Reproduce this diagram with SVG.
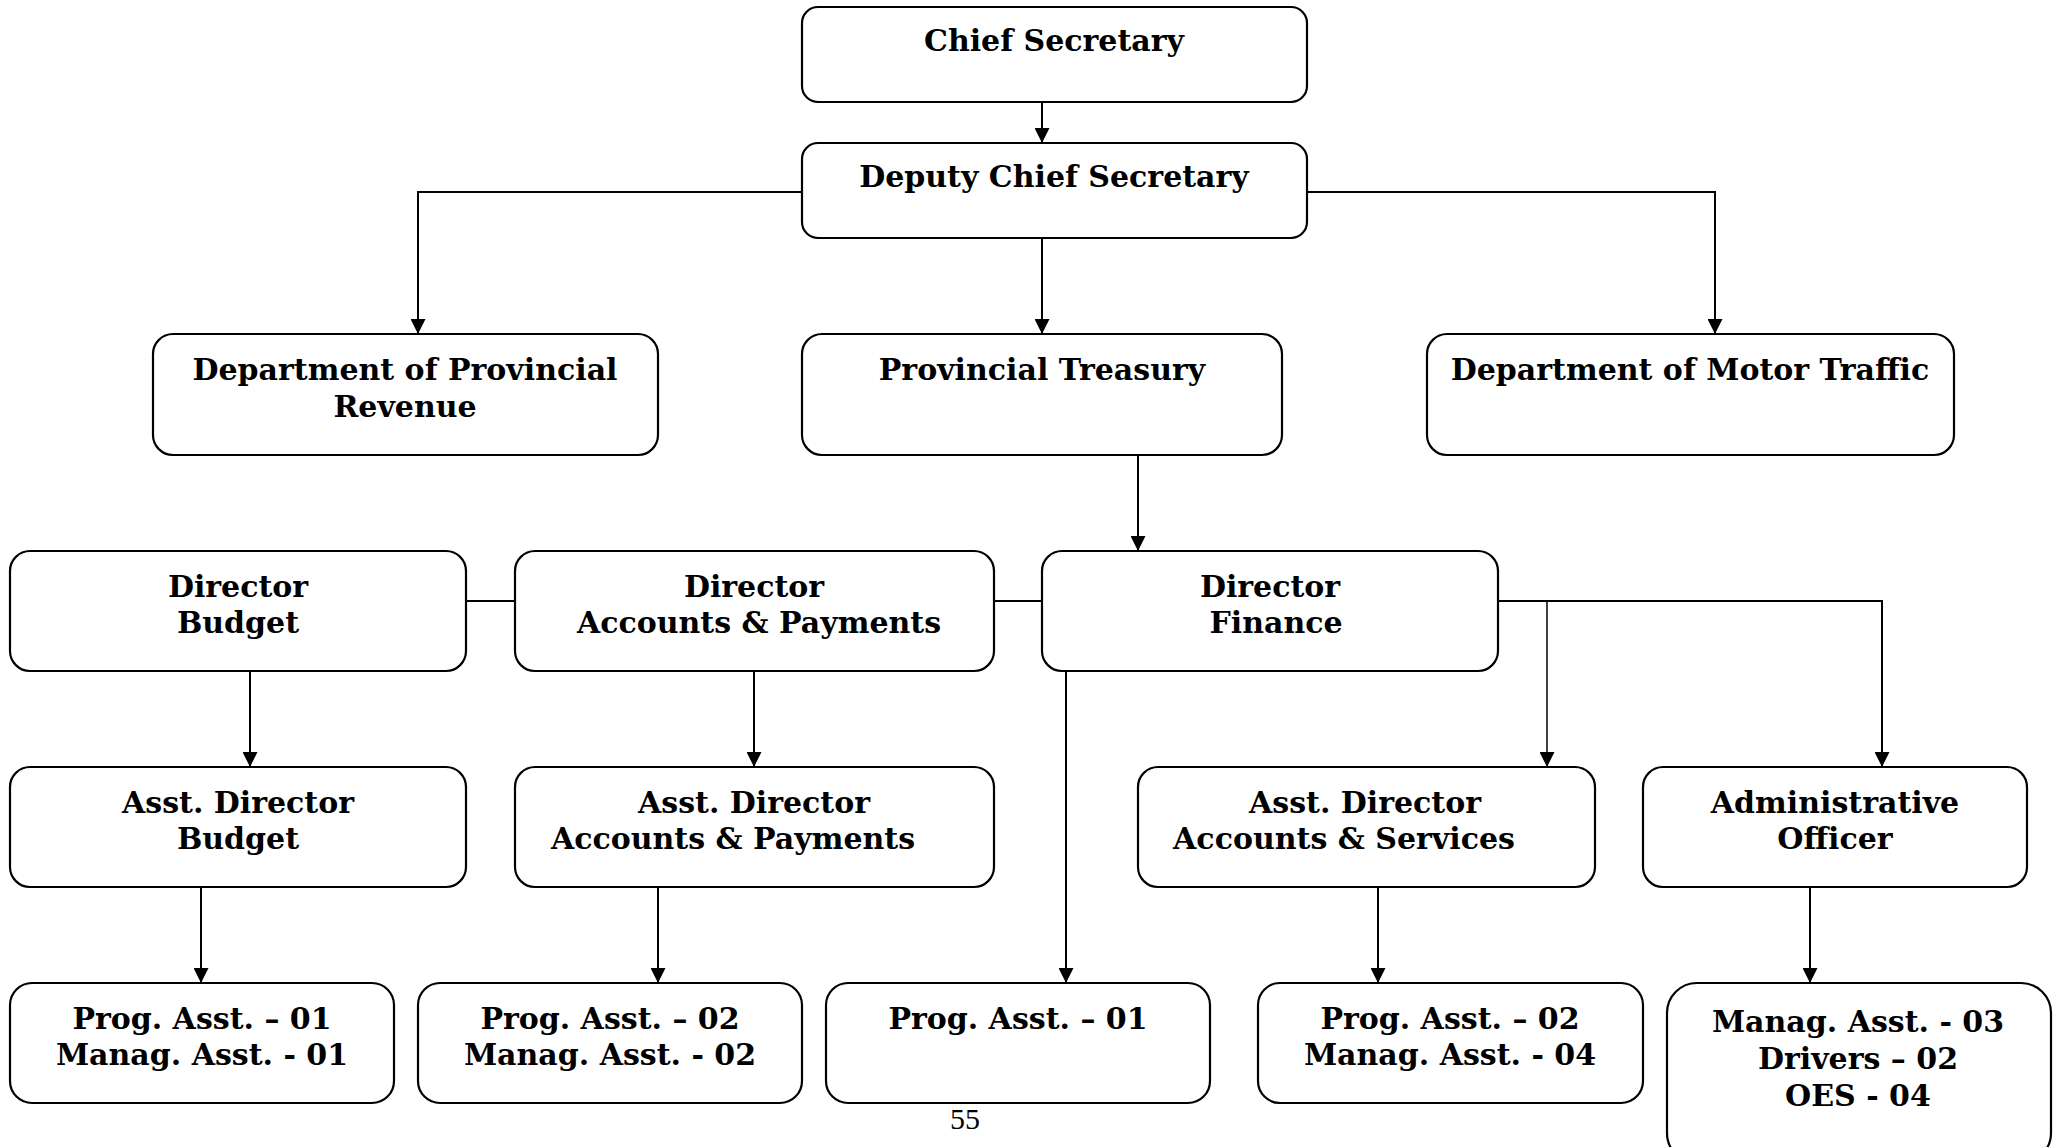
<svg xmlns="http://www.w3.org/2000/svg" width="2062" height="1147" viewBox="0 0 2062 1147">
<style>
.box{fill:#fff;stroke:#000;stroke-width:2.2}
.lbl{font-family:"DejaVu Serif","Liberation Serif",serif;font-weight:bold;font-size:30px;fill:#000;text-anchor:middle}
.conn{fill:none;stroke:#000;stroke-width:2}
.thin{stroke-width:1.5}
.page{font-family:"Liberation Serif","Times New Roman",serif;font-size:30px;fill:#000;text-anchor:middle}
</style>
<defs>
<marker id="arr" markerUnits="userSpaceOnUse" markerWidth="15" markerHeight="15" viewBox="0 0 15 15" refX="15" refY="7.5" orient="auto">
<path d="M0,0 L15,7.5 L0,15 Z" fill="#000"/>
</marker>
</defs>
<rect width="2062" height="1147" fill="#fff"/>
<g id="connectors">
<path class="conn" d="M1042,102 V143" marker-end="url(#arr)"/>
<path class="conn" d="M802,192 H418 V334" marker-end="url(#arr)"/>
<path class="conn" d="M1042,238 V334" marker-end="url(#arr)"/>
<path class="conn" d="M1307,192 H1715 V334" marker-end="url(#arr)"/>
<path class="conn" d="M1138,455 V551" marker-end="url(#arr)"/>
<path class="conn" d="M466,601 H515"/>
<path class="conn" d="M994,601 H1042"/>
<path class="conn" d="M1498,601 H1882 V767" marker-end="url(#arr)"/>
<path class="conn thin" d="M1547,601 V767" marker-end="url(#arr)"/>
<path class="conn" d="M250,671 V767" marker-end="url(#arr)"/>
<path class="conn" d="M754,671 V767" marker-end="url(#arr)"/>
<path class="conn" d="M1066,671 V983" marker-end="url(#arr)"/>
<path class="conn" d="M201,887 V983" marker-end="url(#arr)"/>
<path class="conn" d="M658,887 V983" marker-end="url(#arr)"/>
<path class="conn" d="M1378,887 V983" marker-end="url(#arr)"/>
<path class="conn" d="M1810,887 V983" marker-end="url(#arr)"/>
</g>
<g id="chief-secretary">
<rect class="box" x="802" y="7" width="505" height="95" rx="16"/>
<text class="lbl" x="1054" y="51">Chief Secretary</text>
</g>
<g id="deputy-chief-secretary">
<rect class="box" x="802" y="143" width="505" height="95" rx="16"/>
<text class="lbl" x="1054" y="187">Deputy Chief Secretary</text>
</g>
<g id="dept-provincial-revenue">
<rect class="box" x="153" y="334" width="505" height="121" rx="20"/>
<text class="lbl" x="405" y="380">Department of Provincial</text>
<text class="lbl" x="405" y="417">Revenue</text>
</g>
<g id="provincial-treasury">
<rect class="box" x="802" y="334" width="480" height="121" rx="20"/>
<text class="lbl" x="1042" y="380">Provincial Treasury</text>
</g>
<g id="dept-motor-traffic">
<rect class="box" x="1427" y="334" width="527" height="121" rx="20"/>
<text class="lbl" x="1690" y="380">Department of Motor Traffic</text>
</g>
<g id="director-budget">
<rect class="box" x="10" y="551" width="456" height="120" rx="20"/>
<text class="lbl" x="238" y="597">Director</text>
<text class="lbl" x="238" y="633">Budget</text>
</g>
<g id="director-accounts-payments">
<rect class="box" x="515" y="551" width="479" height="120" rx="20"/>
<text class="lbl" x="754" y="597">Director</text>
<text class="lbl" x="759" y="633">Accounts &amp; Payments</text>
</g>
<g id="director-finance">
<rect class="box" x="1042" y="551" width="456" height="120" rx="20"/>
<text class="lbl" x="1270" y="597">Director</text>
<text class="lbl" x="1276" y="633">Finance</text>
</g>
<g id="asst-director-budget">
<rect class="box" x="10" y="767" width="456" height="120" rx="20"/>
<text class="lbl" x="238" y="813">Asst. Director</text>
<text class="lbl" x="238" y="849">Budget</text>
</g>
<g id="asst-director-accounts-payments">
<rect class="box" x="515" y="767" width="479" height="120" rx="20"/>
<text class="lbl" x="754" y="813">Asst. Director</text>
<text class="lbl" x="733" y="849">Accounts &amp; Payments</text>
</g>
<g id="asst-director-accounts-services">
<rect class="box" x="1138" y="767" width="457" height="120" rx="20"/>
<text class="lbl" x="1365" y="813">Asst. Director</text>
<text class="lbl" x="1344" y="849">Accounts &amp; Services</text>
</g>
<g id="administrative-officer">
<rect class="box" x="1643" y="767" width="384" height="120" rx="20"/>
<text class="lbl" x="1835" y="813">Administrative</text>
<text class="lbl" x="1835" y="849">Officer</text>
</g>
<g id="staff-budget">
<rect class="box" x="10" y="983" width="384" height="120" rx="22"/>
<text class="lbl" x="202" y="1029">Prog. Asst. – 01</text>
<text class="lbl" x="202" y="1065">Manag. Asst. - 01</text>
</g>
<g id="staff-accounts-payments">
<rect class="box" x="418" y="983" width="384" height="120" rx="22"/>
<text class="lbl" x="610" y="1029">Prog. Asst. – 02</text>
<text class="lbl" x="610" y="1065">Manag. Asst. - 02</text>
</g>
<g id="staff-finance">
<rect class="box" x="826" y="983" width="384" height="120" rx="22"/>
<text class="lbl" x="1018" y="1029">Prog. Asst. – 01</text>
</g>
<g id="staff-accounts-services">
<rect class="box" x="1258" y="983" width="385" height="120" rx="22"/>
<text class="lbl" x="1450" y="1029">Prog. Asst. – 02</text>
<text class="lbl" x="1450" y="1065">Manag. Asst. - 04</text>
</g>
<g id="staff-administration">
<rect class="box" x="1667" y="983" width="384" height="180" rx="30"/>
<text class="lbl" x="1858" y="1032">Manag. Asst. - 03</text>
<text class="lbl" x="1858" y="1069">Drivers – 02</text>
<text class="lbl" x="1858" y="1106">OES - 04</text>
</g>
<text class="page" x="965" y="1129">55</text>
</svg>
